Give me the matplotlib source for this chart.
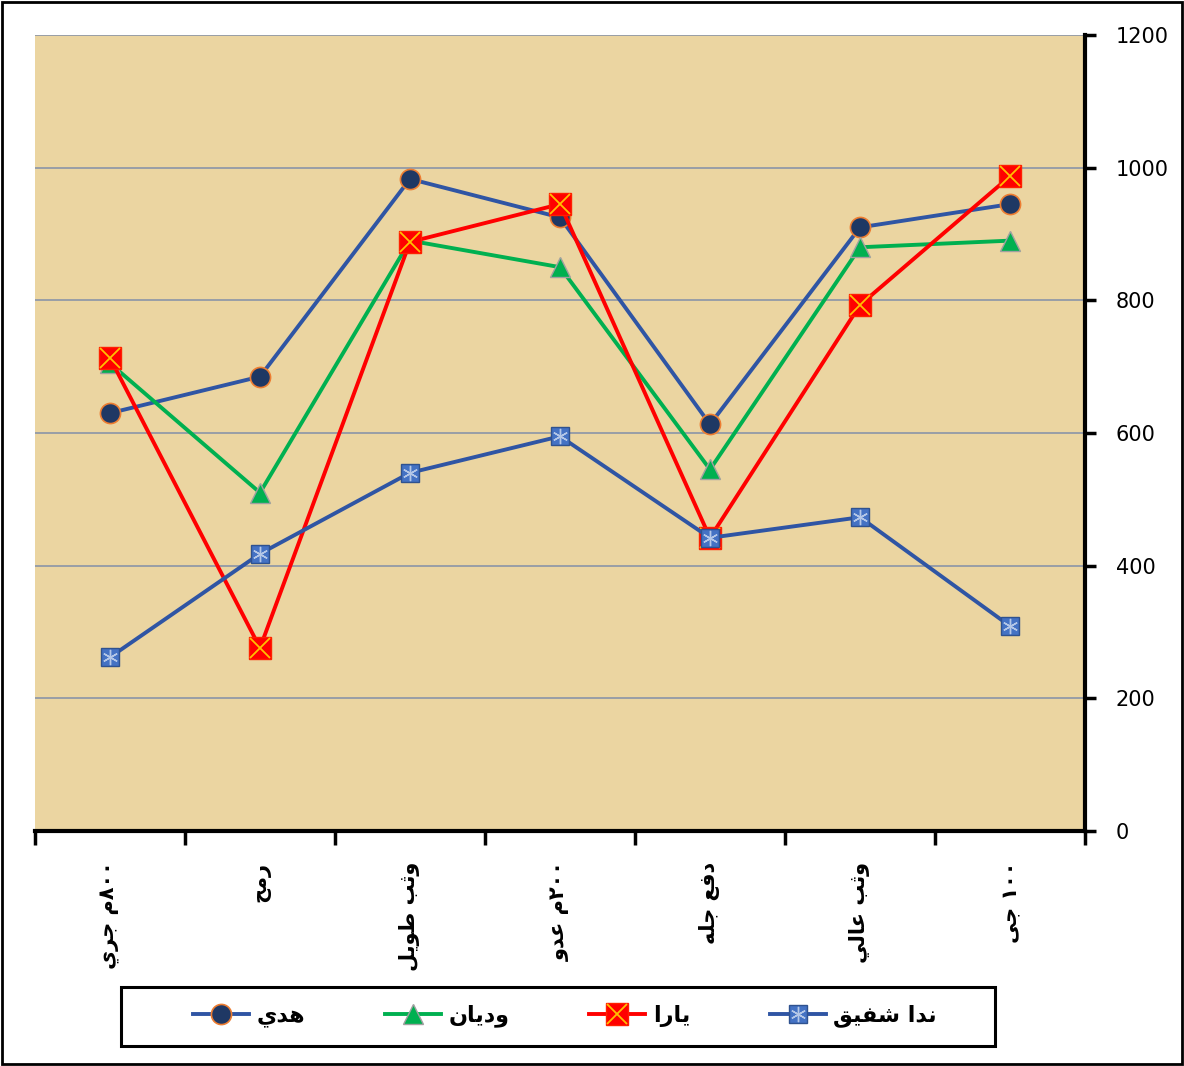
import matplotlib
matplotlib.use("Agg")
import matplotlib.pyplot as plt
from matplotlib.legend_handler import HandlerTuple
from matplotlib.patches import Rectangle

# ---------------- data ----------------
categories = ["٨٠٠م جري", "رمح", "وثب طويل", "٢٠٠م عدو", "دفع جله", "وثب عالي", "١٠٠ جى"]
series_names = ["هدي", "وديان", "يارا", "ندا شفيق"]
huda = [630, 685, 983, 925, 613, 910, 945]
widyan = [705, 510, 890, 850, 545, 880, 890]
yara = [713, 276, 888, 945, 442, 793, 987]
nada = [262, 418, 540, 595, 442, 473, 309]
y_ticks = [0, 200, 400, 600, 800, 1000, 1200]

# ---------------- simple Arabic shaping ----------------
FORMS = {
    '\u0627': ('\uFE8D', '\uFE8E', None, None),
    '\u0628': ('\uFE8F', '\uFE90', '\uFE91', '\uFE92'),
    '\u062A': ('\uFE95', '\uFE96', '\uFE97', '\uFE98'),
    '\u062B': ('\uFE99', '\uFE9A', '\uFE9B', '\uFE9C'),
    '\u062C': ('\uFE9D', '\uFE9E', '\uFE9F', '\uFEA0'),
    '\u062D': ('\uFEA1', '\uFEA2', '\uFEA3', '\uFEA4'),
    '\u062F': ('\uFEA9', '\uFEAA', None, None),
    '\u0631': ('\uFEAD', '\uFEAE', None, None),
    '\u0634': ('\uFEB5', '\uFEB6', '\uFEB7', '\uFEB8'),
    '\u0637': ('\uFEC1', '\uFEC2', '\uFEC3', '\uFEC4'),
    '\u0639': ('\uFEC9', '\uFECA', '\uFECB', '\uFECC'),
    '\u0641': ('\uFED1', '\uFED2', '\uFED3', '\uFED4'),
    '\u0642': ('\uFED5', '\uFED6', '\uFED7', '\uFED8'),
    '\u0644': ('\uFEDD', '\uFEDE', '\uFEDF', '\uFEE0'),
    '\u0645': ('\uFEE1', '\uFEE2', '\uFEE3', '\uFEE4'),
    '\u0646': ('\uFEE5', '\uFEE6', '\uFEE7', '\uFEE8'),
    '\u0647': ('\uFEE9', '\uFEEA', '\uFEEB', '\uFEEC'),
    '\u0648': ('\uFEED', '\uFEEE', None, None),
    '\u0649': ('\uFEEF', '\uFEF0', None, None),
    '\u064A': ('\uFEF1', '\uFEF2', '\uFEF3', '\uFEF4'),
}


def shape_letters(s):
    out = []
    for i, c in enumerate(s):
        if c not in FORMS:
            out.append(c)
            continue
        prev = s[i - 1] if i > 0 else None
        nxt = s[i + 1] if i + 1 < len(s) else None
        jp = prev in FORMS and FORMS[prev][2] is not None
        jn = FORMS[c][2] is not None and nxt in FORMS
        iso, fin, ini, med = FORMS[c]
        if jp and jn:
            out.append(med)
        elif jp:
            out.append(fin)
        elif jn:
            out.append(ini)
        else:
            out.append(iso)
    return "".join(out)


def visual(text):
    words = text.split(" ")
    vis_words = []
    for w in words:
        runs = []
        cur = ""
        cur_digit = None
        for ch in w:
            d = ch.isdigit()
            if cur and d != cur_digit:
                runs.append((cur, cur_digit))
                cur = ""
            cur += ch
            cur_digit = d
        if cur:
            runs.append((cur, cur_digit))
        parts = []
        for r, d in reversed(runs):
            parts.append(r if d else shape_letters(r)[::-1])
        vis_words.append("".join(parts))
    return " ".join(reversed(vis_words))


# ---------------- figure ----------------
plt.rcParams['font.family'] = ['DejaVu Sans']
fig = plt.figure(figsize=(11.84, 10.66), dpi=100)
ax = fig.add_axes([35 / 1184, 1 - 831 / 1066, 1050 / 1184, 796 / 1066])
ax.set_facecolor('#EBD5A1')

x = list(range(1, len(categories) + 1))

line_blue = '#2F55A4'
l1, = ax.plot(x, huda, color=line_blue, lw=2.8, marker='o', ms=14.5,
              mfc='#1F3864', mec='#ED7D31', mew=1.2, zorder=3)
l2, = ax.plot(x, widyan, color='#00B050', lw=2.8, marker='^', ms=14,
              mfc='#00B050', mec='#A0A0A0', mew=1.0, zorder=3)
l3, = ax.plot(x, yara, color='#FF0000', lw=2.8, marker='s', ms=16,
              mfc='#FF0000', mec='#FF2000', mew=1.0, zorder=4)
l3x, = ax.plot(x, yara, ls='none', marker='x', ms=14, mec='#FFC000', mew=1.3, zorder=5)
l4, = ax.plot(x, nada, color=line_blue, lw=2.8, marker='s', ms=13,
              mfc='#4472C4', mec='#2F528F', mew=1.0, zorder=6)
l4x, = ax.plot(x, nada, ls='none', marker=(6, 2, 0), ms=11, mec='#B4C7E7', mew=1.0, zorder=7)

ax.set_xlim(0.5, len(categories) + 0.5)
ax.set_ylim(0, 1200)

ax.set_xticks(x)
ax.set_xticklabels([visual(c) for c in categories], rotation=90,
                   fontsize=15, fontweight='bold', va='top', ha='center')
ax.set_xticks([i + 0.5 for i in range(0, len(categories) + 1)], minor=True)
ax.tick_params(axis='x', which='major', length=0, pad=22)
ax.tick_params(axis='x', which='minor', length=10, width=2.5, direction='out', color='black')

ax.yaxis.tick_right()
ax.set_yticks(y_ticks)
ax.set_yticklabels([str(v) for v in y_ticks], fontsize=15)
ax.tick_params(axis='y', length=8, width=2.5, direction='out', pad=14, color='black')

ax.grid(axis='y', color='#8A95A8', lw=1.2)
ax.set_axisbelow(True)

for s in ['left', 'top']:
    ax.spines[s].set_visible(False)
ax.spines['right'].set_linewidth(3)
ax.spines['bottom'].set_linewidth(3)

handles = [l1, l2, (l3, l3x), (l4, l4x)]
leg = fig.legend(handles, [visual(n) for n in series_names], ncol=4,
                 loc='center', bbox_to_anchor=(565 / 1184, 1 - 1016 / 1066),
                 prop={'size': 16, 'weight': 'bold'}, handlelength=2.5,
                 handletextpad=0.35, columnspacing=3.6,
                 handler_map={tuple: HandlerTuple(ndivide=1)},
                 frameon=False, borderaxespad=0)

# legend box
fig.patches.append(Rectangle((121 / 1184, 1 - 1046 / 1066), 874 / 1184, 59 / 1066,
                             transform=fig.transFigure, fill=True, facecolor='white',
                             edgecolor='black', lw=2.2, zorder=0))
# outer figure border
fig.patches.append(Rectangle((2 / 1184, 2 / 1066), 1 - 4 / 1184, 1 - 4 / 1066,
                             transform=fig.transFigure, fill=False,
                             edgecolor='black', lw=2))

fig.savefig('out.png', dpi=100, facecolor='white')
